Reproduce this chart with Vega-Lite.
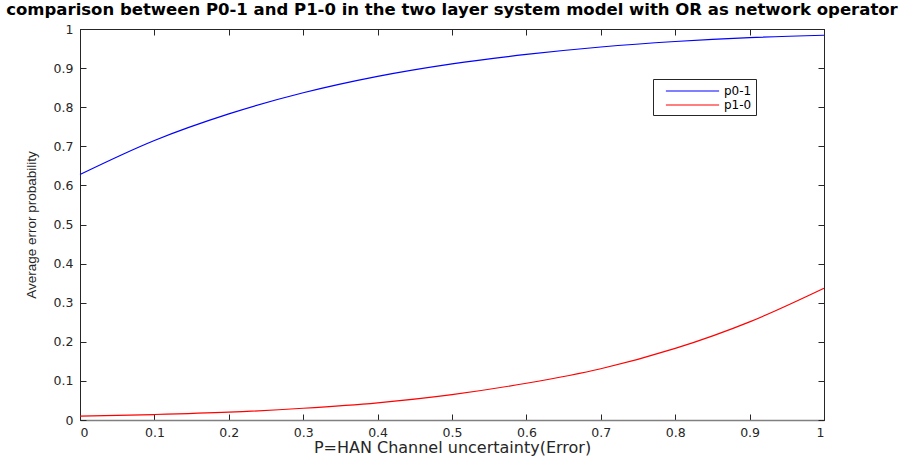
{
  "$schema": "https://vega.github.io/schema/vega-lite/v6.json",
  "width": 744,
  "height": 391,
  "autosize": {"type": "none"},
  "padding": {"left": 80, "top": 29, "right": 79, "bottom": 36},
  "background": "white",
  "title": {
    "text": "comparison between P0-1 and P1-0 in the two layer system model with OR as network operator",
    "font": "DejaVu Sans",
    "fontSize": 16.5,
    "fontWeight": "bold",
    "color": "#000000",
    "anchor": "middle",
    "offset": 5
  },
  "config": {
    "view": {"stroke": "#262626", "strokeWidth": 1},
    "axis": {
      "labelFont": "DejaVu Sans",
      "labelFontSize": 12.5,
      "labelColor": "#262626",
      "titleFont": "DejaVu Sans",
      "titleFontSize": 16,
      "titleFontWeight": "normal",
      "titleColor": "#262626",
      "domainColor": "#262626",
      "tickColor": "#262626",
      "grid": false
    }
  },
  "data": {
    "values": [
      {"x": 0.0, "p": 0.628, "series": "p0-1"},
      {"x": 0.1, "p": 0.715, "series": "p0-1"},
      {"x": 0.2, "p": 0.783, "series": "p0-1"},
      {"x": 0.3, "p": 0.837, "series": "p0-1"},
      {"x": 0.4, "p": 0.879, "series": "p0-1"},
      {"x": 0.5, "p": 0.911, "series": "p0-1"},
      {"x": 0.6, "p": 0.935, "series": "p0-1"},
      {"x": 0.7, "p": 0.954, "series": "p0-1"},
      {"x": 0.8, "p": 0.968, "series": "p0-1"},
      {"x": 0.9, "p": 0.978, "series": "p0-1"},
      {"x": 1.0, "p": 0.984, "series": "p0-1"},
      {"x": 0.0, "p": 0.010, "series": "p1-0"},
      {"x": 0.1, "p": 0.014, "series": "p1-0"},
      {"x": 0.2, "p": 0.020, "series": "p1-0"},
      {"x": 0.3, "p": 0.030, "series": "p1-0"},
      {"x": 0.4, "p": 0.044, "series": "p1-0"},
      {"x": 0.5, "p": 0.065, "series": "p1-0"},
      {"x": 0.6, "p": 0.094, "series": "p1-0"},
      {"x": 0.7, "p": 0.131, "series": "p1-0"},
      {"x": 0.8, "p": 0.183, "series": "p1-0"},
      {"x": 0.9, "p": 0.251, "series": "p1-0"},
      {"x": 1.0, "p": 0.337, "series": "p1-0"}
    ]
  },
  "resolve": {"axis": {"x": "independent", "y": "independent"}},
  "layer": [
    {
      "mark": {"type": "line", "interpolate": "monotone", "strokeWidth": 1.2},
      "encoding": {
        "x": {
          "field": "x", "type": "quantitative",
          "scale": {"domain": [0, 1], "nice": false},
          "axis": {
            "orient": "bottom",
            "title": "P=HAN Channel uncertainty(Error)",
            "values": [0, 0.1, 0.2, 0.3, 0.4, 0.5, 0.6, 0.7, 0.8, 0.9, 1],
            "format": ".1~f",
            "tickSize": -6,
            "labelPadding": 12,
            "titlePadding": 1,
            "domainColor": "#808080",
            "domainWidth": 1.5
          }
        },
        "y": {
          "field": "p", "type": "quantitative",
          "scale": {"domain": [0, 1], "nice": false, "zero": false},
          "axis": {
            "orient": "left",
            "title": "Average error probability",
            "titleFont": "Liberation Sans",
            "titleFontSize": 13.5,
            "values": [0, 0.1, 0.2, 0.3, 0.4, 0.5, 0.6, 0.7, 0.8, 0.9, 1],
            "format": ".1~f",
            "tickSize": -6,
            "labelPadding": 13,
            "titlePadding": 15
          }
        },
        "color": {
          "field": "series", "type": "nominal",
          "scale": {"domain": ["p0-1", "p1-0"], "range": ["#0000ff", "#ff0000"]},
          "legend": {
            "title": null,
            "orient": "none",
            "legendX": 573,
            "legendY": 50,
            "symbolType": "M-3.8,0H3.8",
            "symbolSize": 196,
            "symbolOffset": 27.5,
            "symbolStrokeWidth": 1.2,
            "labelFont": "DejaVu Sans",
            "labelFontSize": 12,
            "labelColor": "#000000",
            "labelOffset": 23.5,
            "strokeColor": "#262626",
            "fillColor": "white",
            "padding": 4,
            "rowPadding": 0
          }
        }
      }
    },
    {
      "mark": {"type": "line", "opacity": 0},
      "encoding": {
        "x": {
          "field": "x", "type": "quantitative",
          "axis": {
            "orient": "top", "title": null, "labels": false,
            "values": [0, 0.1, 0.2, 0.3, 0.4, 0.5, 0.6, 0.7, 0.8, 0.9, 1],
            "tickSize": -6
          }
        },
        "y": {
          "field": "p", "type": "quantitative",
          "axis": {
            "orient": "right", "title": null, "labels": false,
            "values": [0, 0.1, 0.2, 0.3, 0.4, 0.5, 0.6, 0.7, 0.8, 0.9, 1],
            "tickSize": -6
          }
        },
        "detail": {"field": "series"}
      }
    }
  ]
}
